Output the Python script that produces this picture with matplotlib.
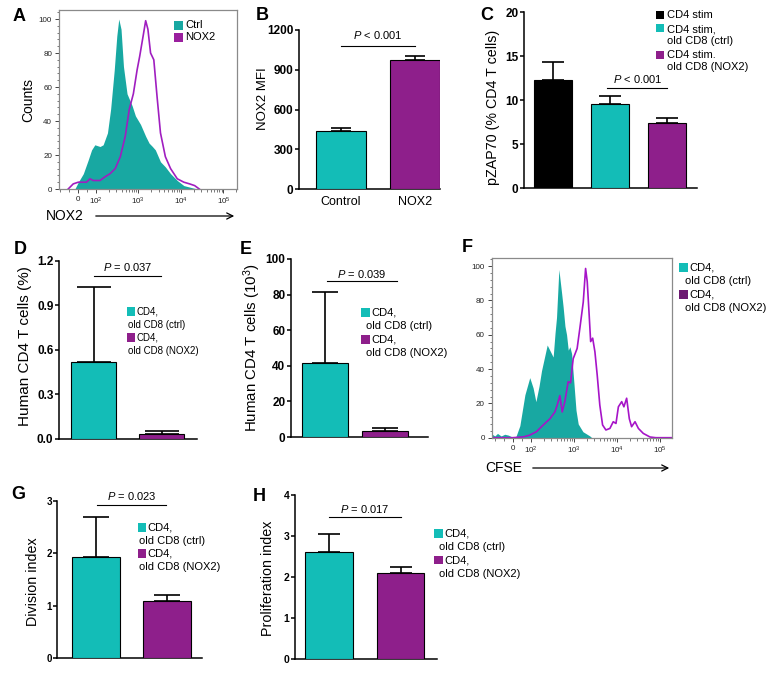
import numpy as np
import matplotlib.pyplot as plt
from matplotlib.patches import Rectangle
from matplotlib.ticker import MultipleLocator

plt.rcParams['font.family'] = ['Liberation Sans', 'DejaVu Sans']
plt.rcParams['mathtext.fontset'] = 'custom'
plt.rcParams['mathtext.rm'] = 'Liberation Sans'
plt.rcParams['mathtext.it'] = 'Liberation Sans:italic'
plt.rcParams['mathtext.bf'] = 'Liberation Sans:bold'

W, H = 774, 675

TEAL = '#13BDB7'
PURPLE = '#8E1F8B'
HIST_TEAL = '#18A8A2'
HIST_LINE = '#A01EC0'
DARK_PURPLE = '#6D1A72'

# ---- panel A: NOX2 histogram (fluorescence, % of max)
a_ctrl_x = [-17, 2, 30, 57, 76, 94, 125, 148, 187, 222, 270, 310, 345, 390, 445,
            540, 710, 850, 1120, 1480, 1780, 2130, 2500, 3300, 4300, 5700, 8200,
            11700, 20000, 25000]
a_ctrl_y = [0, 4, 9, 17, 23, 26, 25, 26, 33, 47, 70, 90, 100, 94, 72,
            56, 49, 43, 38, 31, 27, 25, 23, 16, 13, 9, 5,
            2, 0.5, 0]
a_nox_x = [-54, -26, 2, 48, 67, 85, 125, 160, 215, 285, 375, 490, 610, 760, 930,
           1070, 1290, 1480, 1670, 1930, 2300, 2750, 3300, 4300, 5700, 8200,
           11700, 16000, 21000, 27000]
a_nox_y = [0, 3, 4, 4, 6, 5, 5, 7, 9, 12, 19, 31, 47, 56, 70,
           78, 90, 99, 94, 80, 76, 54, 33, 19, 12, 6,
           4, 3, 2, 0]

# ---- panel B
b_labels = ['Control', 'NOX2']
b_vals = [436, 975]
b_errs = [22, 30]

# ---- panel C
c_vals = [12.27, 9.58, 7.39]
c_errs = [2.03, 0.95, 0.6]
c_legend = ['CD4 stim', 'CD4 stim,\nold CD8 (ctrl)', 'CD4 stim.\nold CD8 (NOX2)']

# ---- panels D, E
d_vals = [0.52, 0.035]
d_errs = [0.50, 0.017]
e_vals = [41.5, 3.4]
e_errs = [40, 1.8]

# ---- panel F: CFSE histogram
f_ctrl_x = [-115, -100, -85, -65, -45, -25, -5, 15, 39, 67, 94, 113, 131, 155, 177,
            240, 330, 365, 395, 448, 520, 564, 620, 676, 740, 807, 885, 1000,
            1120, 1260, 1620, 2350, 2600]
f_ctrl_y = [2, 1, 2.5, 1, 2, 1.5, 0.5, 0, 7, 25, 35, 29, 21, 30, 39,
            54, 47, 61, 70, 98, 84, 76, 65, 60, 51, 53, 49, 32,
            16, 8, 3.5, 1, 0]
f_nox_x = [-118, -60, 0, 60, 94, 135, 194, 277, 362, 410, 472, 535, 616, 736, 837,
           963, 1190, 1380, 1650, 1870, 2040, 2270, 2450, 2730, 3080, 3480, 4000,
           4640, 5540, 6860, 8200, 9500, 10800, 12900, 14500, 16800, 19400, 21900,
           26300, 31500, 40900, 58600, 80000, 187000]
f_nox_y = [0, 0, 0, 0.5, 1.5, 3.5, 7.4, 11, 15, 19, 24.5, 15, 21, 32.6, 32,
           46, 52, 64, 79, 98.6, 91, 71, 56, 58, 50, 36.5, 19,
           7.4, 4.5, 5.4, 9.3, 8.3, 18, 21, 18, 23, 11, 6.4,
           9.3, 5.4, 2.5, 0.4, 0, 0]

# ---- panels G, H
g_vals = [1.93, 1.09]
g_errs = [0.77, 0.11]
h_vals = [2.62, 2.09]
h_errs = [0.43, 0.16]

pair_legend = [('CD4,', 'old CD8 (ctrl)'), ('CD4,', 'old CD8 (NOX2)')]

fig = plt.figure(figsize=(W / 100, H / 100), dpi=100)


def add_axes(left, top, right, bottom):
    return fig.add_axes([left / W, 1 - bottom / H, (right - left) / W, (bottom - top) / H])


def ftext(x, y, s, **kw):
    fig.text(x / W, 1 - y / H, s, **kw)


def square(x, y, size, color):
    fig.add_artist(Rectangle((x / W, 1 - (y + size) / H), size / W, size / H,
                             transform=fig.transFigure, color=color, lw=0))


def ylabel(ax, text, cx, box, fs, yfrac=0.5):
    left, right = box[0], box[2]
    ax.set_ylabel(text, fontsize=fs, va='center')
    ax.yaxis.set_label_coords((cx - left) / (right - left), yfrac)


def bar_panel(box, vals, errs, colors, width, xlim, ylim, step, cap, tfs=8.5, fmt=None):
    ax = add_axes(*box)
    x = np.arange(len(vals))
    ax.bar(x, vals, width=width, color=colors, edgecolor='black', linewidth=0.8, zorder=3)
    ax.errorbar(x, vals, yerr=[np.zeros(len(vals)), errs], fmt='none', ecolor='black',
                elinewidth=1.2, capsize=cap, capthick=1.2, zorder=2)
    ax.set_xlim(*xlim)
    ax.set_ylim(*ylim)
    ax.yaxis.set_major_locator(MultipleLocator(step))
    if fmt:
        ax.yaxis.set_major_formatter(fmt)
    for s in ['top', 'right']:
        ax.spines[s].set_visible(False)
    for s in ['left', 'bottom']:
        ax.spines[s].set_linewidth(1.1)
    ax.tick_params(axis='y', length=3, width=1.1, pad=1, labelsize=tfs)
    for t in ax.get_yticklabels():
        t.set_fontweight('bold')
    ax.set_xticks([])
    return ax


def pbar(ax, x0, x1, y, ty, txt):
    ax.plot([x0, x1], [y, y], color='black', lw=0.8, clip_on=False)
    ax.text((x0 + x1) / 2, ty, txt, ha='center', va='center', fontsize=8)


def pair_leg(x, ys, size, colors, fs=8, dx2=3, dy=13.5):
    for y, c, (l1, l2) in zip(ys, colors, pair_legend):
        square(x, y, size, c)
        ftext(x + size + 1, y + size / 2, l1, fontsize=fs, va='center')
        ftext(x + dx2, y + size / 2 + dy, l2, fontsize=fs, va='center')


def hist_panel(box, ctrl_x, ctrl_y, nox_x, nox_y, xlim, linscale, ytop, line_color):
    ax = add_axes(*box)
    ax.fill_between(ctrl_x, ctrl_y, 0, color=HIST_TEAL, lw=0)
    ax.plot(nox_x, nox_y, color=line_color, lw=1.2)
    ax.set_xscale('symlog', linthresh=100, linscale=linscale)
    ax.set_xlim(*xlim)
    ax.set_ylim(0, ytop)
    ax.set_xticks([0, 1e2, 1e3, 1e4, 1e5])
    ax.set_xticklabels(['0', '$10^2$', '$10^3$', '$10^4$', '$10^5$'])
    minor = [-100, -50, 50]
    for d in [100, 1000, 10000, 100000]:
        minor += [k * d for k in range(2, 10)]
    ax.set_xticks([m for m in minor if xlim[0] < m < xlim[1]], minor=True)
    ax.yaxis.set_minor_locator(MultipleLocator(4))
    ax.set_yticks([0, 20, 40, 60, 80, 100])
    for s in ax.spines.values():
        s.set_color('#8a8a8a')
        s.set_linewidth(0.9)
    ax.tick_params(which='major', length=3, width=0.7, color='#444', labelsize=5.8,
                   labelcolor='#222', pad=2)
    ax.tick_params(which='minor', length=1.8, width=0.5, color='#444')
    return ax


# A
box_a = (59, 10, 237, 189)
ax = hist_panel(box_a, a_ctrl_x, a_ctrl_y, a_nox_x, a_nox_y, (-105, 2.08e5), 0.381, 105.3, HIST_LINE)
ylabel(ax, 'Counts', 28, box_a, 10)
ftext(46, 216, 'NOX2', fontsize=10, va='center')
ax.annotate('', xy=(237, H - 216), xytext=(93, H - 216), xycoords='figure pixels',
            arrowprops=dict(arrowstyle='->', color='black', lw=0.9, mutation_scale=11))
square(174, 21, 8.5, HIST_TEAL)
square(174, 33, 8.5, '#9A1F9E')
ftext(185, 25.5, 'Ctrl', fontsize=8, va='center')
ftext(185, 37.5, 'NOX2', fontsize=8, va='center')

# B
box_b = (299, 30, 440, 189)
ax = bar_panel(box_b, b_vals, b_errs, [TEAL, PURPLE], 0.68, (-0.57, 1.34), (0, 1200), 300, 7)
ax.set_xticks([0, 1])
ax.set_xticklabels(b_labels, fontsize=9)
ax.tick_params(axis='x', length=0, pad=5)
ylabel(ax, 'NOX2 MFI', 263, box_b, 9.5, 0.57)
pbar(ax, 0, 1, 1081, 1162, '$P$ < 0.001')

# C
box_c = (524, 12.3, 697, 188.3)
ax = bar_panel(box_c, c_vals, c_errs, ['black', TEAL, PURPLE], 0.67, (-0.51, 2.52), (0, 20), 5, 8)
ylabel(ax, 'pZAP70 (% CD4 T cells)', 493, box_c, 10.3, 0.46)
pbar(ax, 0.95, 2.0, 11.44, 12.4, '$P$ < 0.001')
for y, c in zip([11, 24.3, 50.7], ['black', TEAL, PURPLE]):
    square(655.7, y, 8, c)
for y, t in zip([15, 35.2, 61.3], c_legend):
    ftext(667, y, t, fontsize=8, va='center', linespacing=1.25)

# D
box_d = (59, 260.7, 197, 438.7)
ax = bar_panel(box_d, d_vals, d_errs, [TEAL, PURPLE], 0.66, (-0.51, 1.52), (0, 1.2), 0.3, 12,
               fmt='{x:.1f}')
ylabel(ax, 'Human CD4 T cells (%)', 25, box_d, 11, 0.52)
pbar(ax, 0.01, 0.99, 1.10, 1.16, '$P$ = 0.037')
pair_leg(126.7, [307.3, 333.3], 8.5, [TEAL, PURPLE], fs=7, dx2=1.6, dy=13)

# E
box_e = (291, 259, 428, 437)
ax = bar_panel(box_e, e_vals, e_errs, [TEAL, PURPLE], 0.77, (-0.57, 1.72), (0, 100), 20, 9.5)
ylabel(ax, 'Human CD4 T cells (10$^3$)', 252, box_e, 10.8, 0.5)
pbar(ax, 0.03, 1.2, 87.5, 91.4, '$P$ = 0.039')
pair_leg(361, [308.3, 335], 9, [TEAL, PURPLE], dx2=5)

# F
box_f = (491.7, 258, 671.7, 437.7)
ax = hist_panel(box_f, f_ctrl_x, f_ctrl_y, f_nox_x, f_nox_y, (-118, 1.87e5), 0.3767, 104.7, '#A614C8')
ftext(485, 468, 'CFSE', fontsize=10, va='center')
ax.annotate('', xy=(672, H - 468), xytext=(530, H - 468), xycoords='figure pixels',
            arrowprops=dict(arrowstyle='->', color='black', lw=0.9, mutation_scale=11))
pair_leg(679, [263.3, 290.3], 9, [TEAL, DARK_PURPLE], dx2=6)

# G
box_g = (57.3, 501, 201.7, 658.3)
ax = bar_panel(box_g, g_vals, g_errs, [TEAL, PURPLE], 0.67, (-0.54, 1.48), (0, 3), 1, 9.5, tfs=7)
ylabel(ax, 'Division index', 33, box_g, 10.3, 0.485)
pbar(ax, 0.01, 0.98, 2.92, 3.1, '$P$ = 0.023')
pair_leg(137.7, [523.3, 549.3], 8.5, [TEAL, PURPLE], dx2=1.6)

# H
box_h = (295, 495, 436.7, 659.3)
ax = bar_panel(box_h, h_vals, h_errs, [TEAL, PURPLE], 0.66, (-0.47, 1.50), (0, 4), 1, 8, tfs=7.5)
ylabel(ax, 'Proliferation index', 268, box_h, 10.3, 0.49)
pbar(ax, 0.0, 1.0, 3.46, 3.66, '$P$ = 0.017')
pair_leg(434.3, [529, 555.7], 8.7, [TEAL, PURPLE], dx2=5)

# panel letters
for lab, x, y in [('A', 12.7, 8), ('B', 256, 6.5), ('C', 480, 6.5), ('D', 13.3, 241),
                  ('E', 240, 241), ('F', 461.7, 239), ('G', 11.7, 486), ('H', 253, 488)]:
    ftext(x, y, lab, fontsize=13, fontweight='bold', va='top', ha='left')

fig.savefig('out.png', dpi=100)
